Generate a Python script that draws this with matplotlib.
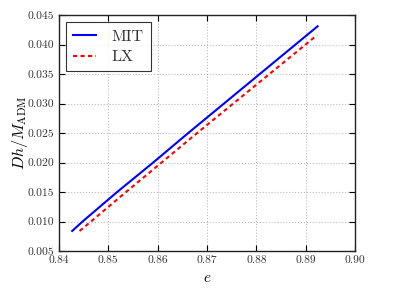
import matplotlib
matplotlib.use("Agg")
import matplotlib.pyplot as plt

# Data
e_mit = [0.8427, 0.8448, 0.8518, 0.8591, 0.8662, 0.8924]
dh_mit = [0.0084, 0.0100, 0.0150, 0.0200, 0.0250, 0.0431]
e_lx = [0.8442, 0.8465, 0.8536, 0.8608, 0.8680, 0.8923]
dh_lx = [0.0084, 0.0100, 0.0150, 0.0200, 0.0250, 0.0416]

xticks = [0.84, 0.85, 0.86, 0.87, 0.88, 0.89, 0.90]
yticks = [0.005, 0.010, 0.015, 0.020, 0.025, 0.030, 0.035, 0.040, 0.045]

plt.rcParams['font.family'] = 'serif'
plt.rcParams['font.serif'] = ['cmr10', 'DejaVu Serif']
plt.rcParams['mathtext.fontset'] = 'cm'
plt.rcParams['axes.formatter.use_mathtext'] = True

fig = plt.figure(figsize=(3.95, 2.96), dpi=100)
ax = fig.add_axes([0.149, 0.152, 0.750, 0.797])

ax.plot(e_mit, dh_mit, color='blue', lw=1.5, label='MIT')
ax.plot(e_lx, dh_lx, color='red', lw=1.5, linestyle=(0, (2.0, 1.6)), label='LX')

ax.set_xlim(0.84, 0.90)
ax.set_ylim(0.005, 0.045)
ax.set_xticks(xticks)
ax.set_yticks(yticks)
ax.set_xticklabels(['%.2f' % v for v in xticks])
ax.set_yticklabels(['%.3f' % v for v in yticks])
ax.tick_params(direction='in', top=True, right=True, labelsize=8.3, length=4, width=0.8, colors='black', labelcolor='#333333')
ax.grid(True, color='#bbbbbb', linestyle=':', linewidth=0.8)
for s in ax.spines.values():
    s.set_linewidth(1.0)
    s.set_color('#222222')

ax.set_xlabel(r'$e$', fontsize=11)
ax.set_ylabel(r'$Dh/M_{\rm ADM}$', fontsize=11.5)
ax.yaxis.set_label_coords(-0.098, 0.5)

leg = ax.legend(loc='upper left', fontsize=11.5, frameon=True, fancybox=False,
                edgecolor='black', handlelength=1.4, borderpad=0.45,
                labelspacing=0.4, handletextpad=1.0, borderaxespad=0.45)
leg.get_frame().set_linewidth(0.8)
for t in leg.get_texts():
    t.set_color('#333333')

fig.savefig('out.png', dpi=100, facecolor='white')
